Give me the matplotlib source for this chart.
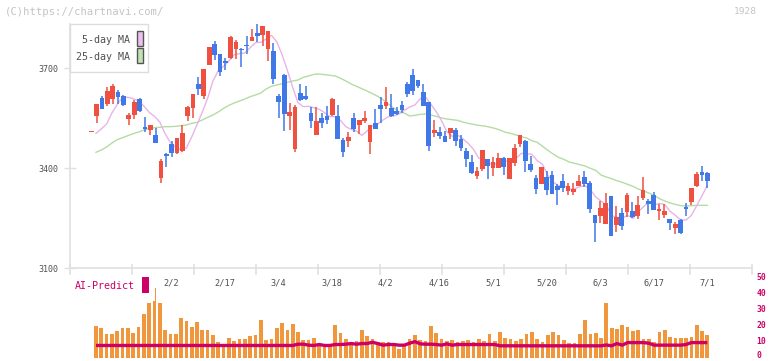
import numpy as np
import matplotlib
matplotlib.use("Agg")
import matplotlib.pyplot as plt
import matplotlib.transforms as mtransforms
from matplotlib.patches import Rectangle

plt.rcParams['font.family'] = ['DejaVu Sans Mono']

W, H = 772, 361

# ---------------- data ----------------
open_ = [3510,3557,3610,3592,3608,3628,3616,3548,3560,3607,
         3523,3514,3499,3371,3442,3472,3444,3451,3556,3581,
         3652,3617,3710,3772,3742,3720,3731,3758,3756,3769,
         3781,3805,3799,3758,3751,3616,3679,3557,3458,3625,
         3616,3566,3500,3550,3556,3560,3556,3484,3482,3549,
         3530,3541,3479,3535,3588,3587,3580,3572,3588,3652,
         3679,3664,3628,3598,3505,3508,3496,3506,3514,3487,
         3451,3418,3375,3398,3427,3401,3401,3430,3368,3416,
         3473,3481,3413,3370,3353,3373,3379,3347,3361,3332,
         3327,3347,3373,3355,3259,3257,3233,3316,3229,3265,
         3269,3271,3257,3311,3301,3319,3272,3259,3247,3219,
         3244,3283,3299,3346,3388,3385]
high = [3512,3592,3617,3644,3652,3634,3619,3565,3605,3610,
        3554,3529,3521,3426,3444,3482,3491,3529,3586,3622,
        3673,3697,3763,3781,3742,3731,3796,3783,3761,3796,
        3817,3832,3826,3811,3775,3622,3682,3595,3590,3652,
        3647,3583,3583,3566,3587,3610,3590,3491,3509,3566,
        3544,3571,3529,3576,3614,3642,3622,3584,3600,3657,
        3697,3664,3652,3598,3544,3524,3511,3521,3519,3498,
        3459,3438,3402,3454,3427,3434,3445,3433,3429,3472,
        3499,3484,3437,3379,3403,3392,3392,3352,3382,3356,
        3356,3379,3391,3361,3259,3301,3326,3316,3286,3279,
        3326,3299,3315,3373,3307,3329,3292,3292,3247,3239,
        3247,3294,3340,3388,3406,3388]
low = [3508,3536,3578,3587,3593,3591,3586,3530,3547,3567,
       3507,3498,3476,3356,3404,3434,3441,3449,3542,3550,
       3619,3607,3710,3725,3676,3693,3728,3728,3703,3741,
       3781,3779,3767,3722,3653,3551,3512,3515,3449,3602,
       3605,3520,3500,3520,3532,3557,3487,3434,3464,3507,
       3502,3534,3443,3518,3535,3577,3552,3560,3564,3614,
       3620,3639,3587,3452,3493,3488,3479,3488,3466,3450,
       3402,3381,3366,3392,3368,3376,3401,3379,3368,3407,
       3464,3389,3389,3323,3353,3320,3323,3288,3329,3320,
       3320,3347,3343,3266,3178,3236,3233,3196,3209,3213,
       3253,3249,3247,3305,3263,3275,3245,3251,3215,3201,
       3203,3255,3289,3343,3362,3341]
close = [3510,3592,3578,3630,3646,3614,3590,3559,3597,3570,
         3518,3529,3476,3422,3437,3446,3491,3505,3584,3622,
         3638,3697,3763,3740,3689,3715,3793,3777,3753,3766,
         3793,3796,3826,3811,3668,3599,3563,3568,3583,3605,
         3608,3542,3542,3534,3544,3607,3487,3449,3493,3518,
         3544,3550,3529,3518,3577,3598,3556,3562,3574,3623,
         3632,3647,3587,3466,3514,3497,3479,3521,3482,3461,
         3428,3386,3391,3454,3406,3418,3430,3403,3429,3460,
         3499,3422,3393,3338,3403,3335,3323,3335,3341,3347,
         3337,3361,3351,3278,3236,3280,3295,3196,3253,3225,
         3319,3253,3289,3334,3293,3275,3277,3271,3234,3232,
         3205,3278,3340,3382,3380,3362]
ma5 = [3504,3517,3532,3565,3591,3612,3612,3608,3601,3586,
       3567,3555,3538,3503,3476,3462,3454,3460,3493,3530,
       3568,3609,3661,3692,3705,3721,3740,3743,3745,3761,
       3776,3777,3787,3798,3779,3740,3693,3642,3596,3584,
       3585,3581,3576,3566,3554,3554,3543,3524,3516,3511,
       3498,3511,3527,3532,3544,3554,3556,3562,3573,3583,
       3589,3608,3613,3591,3569,3542,3509,3495,3499,3488,
       3474,3456,3430,3424,3413,3411,3420,3422,3417,3428,
       3444,3443,3441,3422,3411,3378,3358,3347,3347,3336,
       3337,3344,3347,3335,3313,3301,3288,3257,3252,3250,
       3258,3249,3268,3284,3298,3289,3294,3290,3270,3258,
       3244,3244,3258,3287,3317,3348]
ma25 = [3447,3454,3463,3475,3485,3491,3497,3503,3508,3514,
        3518,3521,3522,3524,3524,3525,3527,3529,3534,3537,
        3544,3552,3559,3568,3579,3588,3595,3601,3607,3614,
        3619,3625,3637,3645,3649,3653,3657,3661,3664,3672,
        3676,3681,3682,3680,3678,3676,3669,3661,3652,3645,
        3638,3631,3623,3615,3605,3592,3580,3569,3565,3556,
        3558,3561,3562,3559,3555,3550,3547,3545,3543,3538,
        3534,3531,3528,3526,3523,3519,3514,3507,3504,3499,
        3494,3490,3482,3477,3465,3453,3442,3432,3426,3418,
        3414,3410,3406,3399,3393,3379,3373,3368,3362,3357,
        3351,3345,3337,3331,3325,3318,3308,3301,3295,3291,
        3287,3286,3287,3288,3288,3288]
volume = [19.6,18.3,14.6,14.6,16.5,18.3,18.3,15.2,18.9,27.0,
          33.9,43.6,33.9,17.1,14.6,14.6,24.5,22.7,18.9,22.2,
          17.3,17.1,14.0,9.6,7.8,12.1,10.2,11.5,11.5,13.4,
          14.0,23.3,10.9,11.5,18.3,21.4,17.1,20.8,15.8,10.9,
          10.9,12.1,8.4,6.5,6.5,20.2,15.2,11.5,9.0,10.2,
          17.1,13.4,11.5,9.6,9.6,9.6,8.4,5.3,7.1,11.5,
          14.0,10.9,10.2,19.6,15.2,11.5,10.2,10.9,9.6,10.2,
          10.9,9.6,11.5,10.2,14.6,10.2,15.8,12.1,11.5,10.2,
          11.5,14.6,15.8,11.5,9.6,14.0,15.8,14.0,10.9,9.0,
          9.0,14.6,23.3,14.6,15.2,12.1,33.9,18.3,17.7,20.2,
          18.9,16.5,17.1,11.5,11.5,9.6,15.8,17.1,12.7,12.1,
          12.1,12.1,12.7,20.2,16.5,14.0]
ai_predict = [7.6,7.6,7.6,7.6,7.6,7.6,7.6,7.6,7.6,7.6,
              7.6,7.6,7.6,7.6,7.6,7.6,7.6,7.6,7.6,7.6,
              7.6,7.6,7.6,7.6,7.6,7.6,7.6,7.6,7.6,7.6,
              7.6,7.6,7.6,7.6,7.6,7.6,7.6,7.6,8.4,8.4,
              7.8,7.6,8.2,7.6,7.6,8.2,8.2,8.4,8.8,8.4,
              8.8,8.8,9.6,8.8,7.8,8.2,8.2,7.8,7.8,9.0,
              10.0,8.6,8.4,8.4,8.2,7.8,8.6,7.8,8.2,8.2,
              8.2,8.2,8.2,8.2,8.2,8.2,7.4,7.4,7.4,7.4,
              7.4,7.4,7.4,7.4,7.4,7.4,7.4,7.4,7.4,7.4,
              7.4,7.4,7.4,7.4,7.4,7.4,7.9,7.4,8.8,7.8,
              9.4,9.4,9.4,9.4,9.0,7.8,7.8,7.8,7.8,7.8,
              7.8,8.2,9.4,9.4,9.4,9.4]
date_labels = ["2/2", "2/17", "3/4", "3/18", "4/2", "4/16",
               "5/1", "5/20", "6/3", "6/17", "7/1"]
date_label_idx = [15, 25, 35, 45, 55, 65, 75, 85, 95, 105, 115]
price_ticks = [3100, 3400, 3700]
ai_ticks = [0, 10, 20, 30, 40, 50]

# ---------------- styling ----------------
UP = '#f05040'
DOWN = '#4078e8'
MA5_C = '#e8b4e8'
MA25_C = '#b4dca4'
VOL_C = '#f0963c'
AI_C = '#cc0066'
GRID_C = '#e0e0e0'
TXT_C = '#505050'

fig = plt.figure(figsize=(W / 100, H / 100), dpi=100)
fig.patch.set_facecolor('white')


def fx(x):
    return x / W


def fy(y):
    return 1 - y / H


main_rect = [fx(70), fy(268), (752.3 - 70) / W, (268 - 24) / H]

# moving averages (behind candles)
ax_ma = fig.add_axes(main_rect, zorder=1)
ax_ma.axis('off')
n = len(close)
idx = np.arange(n)
ax_ma.set_xlim(-4.89, 123.46)
ax_ma.set_ylim(3100, 3832)
ax_ma.plot(idx, ma25, color=MA25_C, lw=1.0)
ax_ma.plot(idx, ma5, color=MA5_C, lw=1.0)

# candles
ax = fig.add_axes(main_rect, zorder=2)
ax.patch.set_alpha(0)
ax.set_xlim(-3.976, 123.39)
ax.set_ylim(3100, 3832)
o = np.array(open_, float)
c = np.array(close, float)
colors = [UP if cc >= oo else DOWN for oo, cc in zip(o, c)]
bot = np.minimum(o, c)
hgt = np.abs(c - o)
small = hgt < 3
bot = np.where(small, bot - (3 - hgt) / 2, bot)
hgt = np.where(small, 3, hgt)
ax.vlines(idx, low, high, colors=colors, lw=1.1, zorder=2)
ax.bar(idx, hgt, bottom=bot, width=0.88, color=colors, linewidth=0, zorder=3)

for s in ['top', 'right']:
    ax.spines[s].set_visible(False)
for s in ['left', 'bottom']:
    ax.spines[s].set_color(GRID_C)
    ax.spines[s].set_linewidth(1.2)

ax.set_yticks(price_ticks)
ax.set_yticklabels([str(v) for v in price_ticks])
ax.tick_params(axis='y', direction='inout', length=9, width=1, color=GRID_C,
               labelsize=6, labelcolor=TXT_C, pad=4)
ax.set_xticks(date_label_idx)
ax.set_xticklabels(date_labels)
ax.tick_params(axis='x', length=0, pad=7.5, labelsize=6.2, labelcolor=TXT_C)
for k in range(12):
    ax.plot([k / 11, k / 11], [-6 / 244, 3 / 244], transform=ax.transAxes,
            color=GRID_C, lw=1.2, clip_on=False)

# volume + AI predict  (0 at y=357.7 px, 50 at y=277.3 px)
v_bot_px, v_top_px = 359.0, 276.0
px_per_unit = (357.7 - 277.3) / 50
axv = fig.add_axes([fx(70), fy(v_bot_px), (752.3 - 70) / W, (v_bot_px - v_top_px) / H], zorder=1)
axv.patch.set_alpha(0)
axv.set_xlim(-4.89, 123.46)
axv.set_ylim(-(v_bot_px - 357.7) / px_per_unit, (357.7 - v_top_px) / px_per_unit)
axv.bar(idx, volume, width=0.7, color=VOL_C, linewidth=0)
axv.plot(idx, ai_predict, color=AI_C, lw=2.4, solid_capstyle='butt')
for s in axv.spines.values():
    s.set_visible(False)
axv.set_xticks([])
axv.yaxis.tick_right()
axv.set_yticks(ai_ticks)
axv.set_yticklabels([str(v) for v in ai_ticks])
axv.tick_params(axis='y', length=0, labelsize=5.8, labelcolor=AI_C, pad=3)
for t in axv.get_yticklabels():
    t.set_fontweight('bold')
    t.set_verticalalignment('center')
# keep the bottom label inside the canvas
lab0 = axv.get_yticklabels()[0]
lab0.set_transform(lab0.get_transform() +
                   mtransforms.ScaledTranslation(0, 2.5 / 100, fig.dpi_scale_trans))

# label area over the volume panel
fig.add_artist(Rectangle((fx(70), fy(301)), (155.3 - 70) / W, (301 - 276) / H,
                         transform=fig.transFigure, facecolor='white',
                         edgecolor='none', zorder=5))
fig.text(fx(75), fy(286), 'AI-Predict', color=AI_C, fontsize=7.2,
         ha='left', va='center', zorder=6)
fig.add_artist(Rectangle((fx(142.3), fy(292.7)), 6.4 / W, 16 / H,
                         transform=fig.transFigure, facecolor=AI_C,
                         edgecolor='none', zorder=6))

# legend box
fig.add_artist(Rectangle((fx(70), fy(72)), 78 / W, 48 / H,
                         transform=fig.transFigure, facecolor='white',
                         edgecolor='#dddddd', lw=1, zorder=5))
fig.text(fx(129.5), fy(40), '5-day MA', color=TXT_C, fontsize=7.2,
         ha='right', va='center', zorder=6)
fig.text(fx(129.5), fy(57), '25-day MA', color=TXT_C, fontsize=7.2,
         ha='right', va='center', zorder=6)
fig.add_artist(Rectangle((fx(136.7), fy(46)), 6.6 / W, 14.7 / H,
                         transform=fig.transFigure, facecolor='#ecc0ec',
                         edgecolor='#555555', lw=1, zorder=6))
fig.add_artist(Rectangle((fx(136.7), fy(63)), 6.6 / W, 14.7 / H,
                         transform=fig.transFigure, facecolor='#c2e2b4',
                         edgecolor='#555555', lw=1, zorder=6))

# header texts
fig.text(fx(5), fy(12), '(C)https://chartnavi.com/', color='#c4c4c4',
         fontsize=7.6, ha='left', va='center')
fig.text(fx(757), fy(12), '1928', color='#c4c4c4', fontsize=6.8,
         ha='right', va='center')

fig.savefig('out.png', dpi=100, facecolor='white')
